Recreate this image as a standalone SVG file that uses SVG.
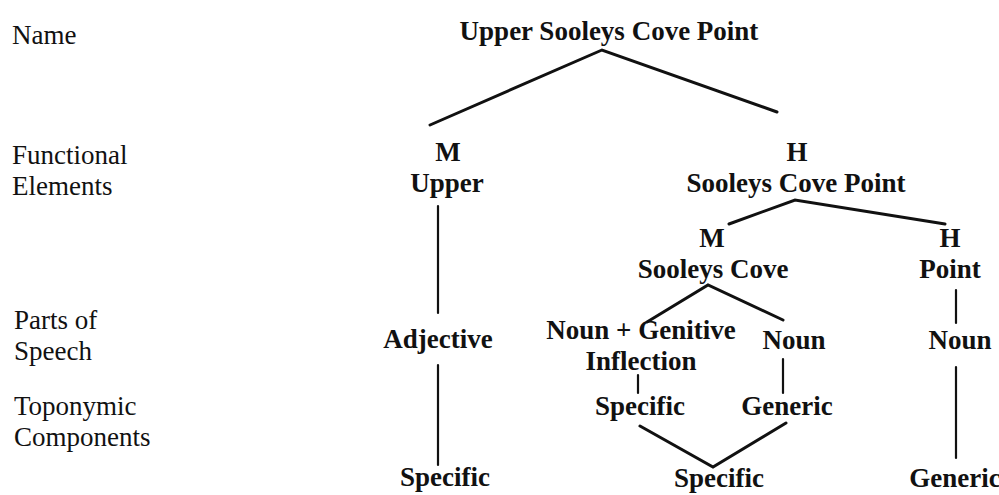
<svg xmlns="http://www.w3.org/2000/svg" width="999" height="495" viewBox="0 0 999 495">
  <style>
    .lbl { font-family: "Liberation Serif", "Times New Roman", serif; font-size: 27px; fill: #111; }
    .nd { font-family: "Liberation Serif", "Times New Roman", serif; font-size: 27px; font-weight: bold; fill: #111; text-anchor: middle; }
    .edge { fill: none; stroke: #111; stroke-width: 3; stroke-linecap: round; stroke-linejoin: miter; }
    .tick { fill: none; stroke: #111; stroke-width: 2.2; stroke-linecap: round; }
  </style>
  <rect width="999" height="495" fill="#ffffff"/>

  <!-- level labels -->
  <g id="levels">
    <text class="lbl" x="12" y="44">Name</text>
    <text class="lbl" x="12" y="164">Functional</text>
    <text class="lbl" x="12" y="195">Elements</text>
    <text class="lbl" x="14" y="329">Parts of</text>
    <text class="lbl" x="14" y="360">Speech</text>
    <text class="lbl" x="14" y="415">Toponymic</text>
    <text class="lbl" x="14" y="446">Components</text>
  </g>

  <!-- connectors -->
  <g id="connectors">
    <polyline class="edge" points="430,125 602,50 777,112"/>
    <line class="tick" x1="438" y1="206" x2="438" y2="313"/>
    <line class="tick" x1="438" y1="365" x2="438" y2="465"/>
    <polyline class="edge" points="729,224 795,200 945,224"/>
    <polyline class="edge" points="647,322 708,285 783,320"/>
    <line class="tick" x1="956" y1="290" x2="956" y2="323"/>
    <line class="tick" x1="956" y1="367" x2="956" y2="458"/>
    <line class="tick" x1="638" y1="375" x2="638" y2="393" stroke-width="1.6"/>
    <line class="tick" x1="783" y1="359" x2="783" y2="393"/>
    <polyline class="edge" points="640,426 713,467 786,423"/>
  </g>

  <!-- nodes -->
  <g id="n-root"><text class="nd" x="609" y="40">Upper Sooleys Cove Point</text></g>
  <g id="n-m-upper">
    <text class="nd" x="448" y="161">M</text>
    <text class="nd" x="447" y="192">Upper</text>
  </g>
  <g id="n-h-scp">
    <text class="nd" x="797" y="161">H</text>
    <text class="nd" x="796" y="192">Sooleys Cove Point</text>
  </g>
  <g id="n-m-sc">
    <text class="nd" x="712" y="247">M</text>
    <text class="nd" x="713" y="278">Sooleys Cove</text>
  </g>
  <g id="n-h-point">
    <text class="nd" x="950" y="247">H</text>
    <text class="nd" x="950" y="278">Point</text>
  </g>
  <g id="n-adjective"><text class="nd" x="438" y="348">Adjective</text></g>
  <g id="n-noun-gen">
    <text class="nd" x="641" y="339">Noun + Genitive</text>
    <text class="nd" x="641" y="370">Inflection</text>
  </g>
  <g id="n-noun-mid"><text class="nd" x="794" y="349">Noun</text></g>
  <g id="n-noun-right"><text class="nd" x="960" y="349">Noun</text></g>
  <g id="n-specific-mid"><text class="nd" x="640" y="415">Specific</text></g>
  <g id="n-generic-mid"><text class="nd" x="787" y="415">Generic</text></g>
  <g id="n-specific-left"><text class="nd" x="445" y="486">Specific</text></g>
  <g id="n-specific-bottom"><text class="nd" x="719" y="487">Specific</text></g>
  <g id="n-generic-right"><text class="nd" x="955" y="487">Generic</text></g>
</svg>
